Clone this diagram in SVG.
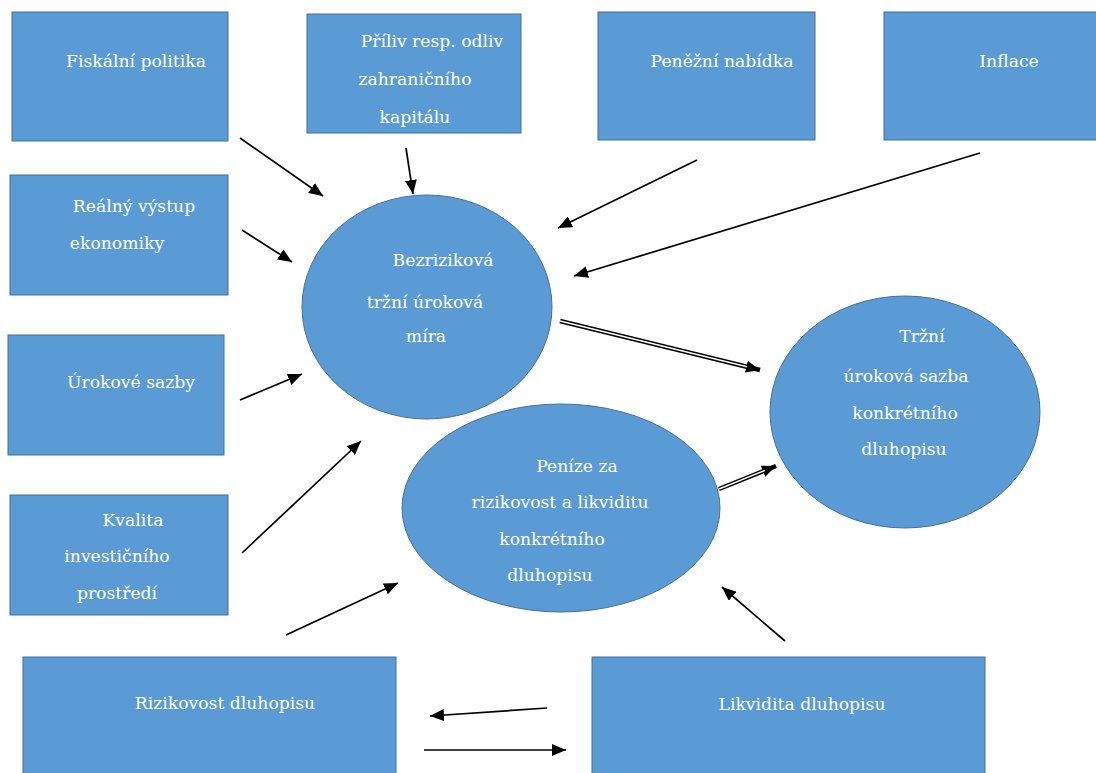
<svg xmlns="http://www.w3.org/2000/svg" width="1096" height="773" viewBox="0 0 1096 773">
<defs>
<style>
.box{fill:#5B9BD5;stroke:#41719C;stroke-width:1}
.t{font-family:"DejaVu Serif","Liberation Serif",serif;font-size:17.2px;fill:#ffffff;text-anchor:middle}
.ln{stroke:#000;stroke-width:1.7;fill:none}
.dbl{stroke:#000;stroke-width:4.5;fill:none}
.dblw{stroke:#fff;stroke-width:1.5;fill:none}
</style>
<marker id="ah" markerUnits="userSpaceOnUse" markerWidth="15" markerHeight="12" refX="14" refY="6" orient="auto">
<path d="M0,0 L14,6 L0,12 z" fill="#000"/>
</marker>
</defs>
<rect width="1096" height="773" fill="#fff"/>
<g id="fiskalni"><rect class="box" x="12" y="12" width="216" height="129"/><text class="t" x="136" y="67">Fiskální politika</text></g>
<g id="priliv"><rect class="box" x="307" y="14" width="214" height="119"/><text class="t" x="432" y="47">Příliv resp. odliv</text><text class="t" x="415" y="85">zahraničního</text><text class="t" x="415" y="123">kapitálu</text></g>
<g id="penezni"><rect class="box" x="598" y="12" width="217" height="128"/><text class="t" x="722" y="67">Peněžní nabídka</text></g>
<g id="inflace"><rect class="box" x="884" y="12" width="220" height="128"/><text class="t" x="1009" y="67">Inflace</text></g>
<g id="realny"><rect class="box" x="10" y="175" width="218" height="120"/><text class="t" x="134" y="212">Reálný výstup</text><text class="t" x="117" y="249">ekonomiky</text></g>
<g id="urokove"><rect class="box" x="8" y="335" width="216" height="120"/><text class="t" x="131" y="388">Úrokové sazby</text></g>
<g id="kvalita"><rect class="box" x="10" y="495" width="218" height="120"/><text class="t" x="133" y="526">Kvalita</text><text class="t" x="117" y="562">investičního</text><text class="t" x="117" y="599">prostředí</text></g>
<g id="rizikovost"><rect class="box" x="23" y="657" width="373" height="130"/><text class="t" x="225" y="709">Rizikovost dluhopisu</text></g>
<g id="likvidita"><rect class="box" x="592" y="657" width="393" height="130"/><text class="t" x="802" y="710">Likvidita dluhopisu</text></g>
<g id="bezrizikova"><ellipse class="box" cx="427" cy="307" rx="125" ry="112"/><text class="t" x="443" y="266">Bezriziková</text><text class="t" x="425" y="308">tržní úroková</text><text class="t" x="426" y="342">míra</text></g>
<g id="trzni"><ellipse class="box" cx="905" cy="412" rx="135" ry="116"/><text class="t" x="922" y="342">Tržní</text><text class="t" x="906" y="382">úroková sazba</text><text class="t" x="905" y="419">konkrétního</text><text class="t" x="904" y="455">dluhopisu</text></g>
<g id="penize"><ellipse class="box" cx="561" cy="508" rx="159" ry="104"/><text class="t" x="577" y="472">Peníze za</text><text class="t" x="560" y="508">rizikovost a likviditu</text><text class="t" x="552" y="545">konkrétního</text><text class="t" x="550" y="581">dluhopisu</text></g>
<g id="connectors">
<line class="ln" x1="240" y1="138" x2="323" y2="196" marker-end="url(#ah)"/>
<line class="ln" x1="406" y1="148" x2="413" y2="194" marker-end="url(#ah)"/>
<line class="ln" x1="697" y1="160" x2="558" y2="228" marker-end="url(#ah)"/>
<line class="ln" x1="980" y1="153" x2="574" y2="276" marker-end="url(#ah)"/>
<line class="ln" x1="242" y1="230" x2="292" y2="262" marker-end="url(#ah)"/>
<line class="ln" x1="240" y1="400" x2="302" y2="374" marker-end="url(#ah)"/>
<line class="ln" x1="242" y1="553" x2="361" y2="441" marker-end="url(#ah)"/>
<line class="ln" x1="286" y1="635" x2="398" y2="583" marker-end="url(#ah)"/>
<line class="ln" x1="785" y1="641" x2="722" y2="587" marker-end="url(#ah)"/>
<line class="ln" x1="547" y1="708" x2="430" y2="716" marker-end="url(#ah)"/>
<line class="ln" x1="424" y1="750" x2="566" y2="750" marker-end="url(#ah)"/>
<line class="dbl" x1="560" y1="321" x2="760" y2="370" marker-end="url(#ah)"/>
<line class="dblw" x1="560" y1="321" x2="747" y2="366.8"/>
<line class="dbl" x1="719" y1="489" x2="776" y2="466" marker-end="url(#ah)"/>
<line class="dblw" x1="719" y1="489" x2="765" y2="470.4"/>
</g>
</svg>
